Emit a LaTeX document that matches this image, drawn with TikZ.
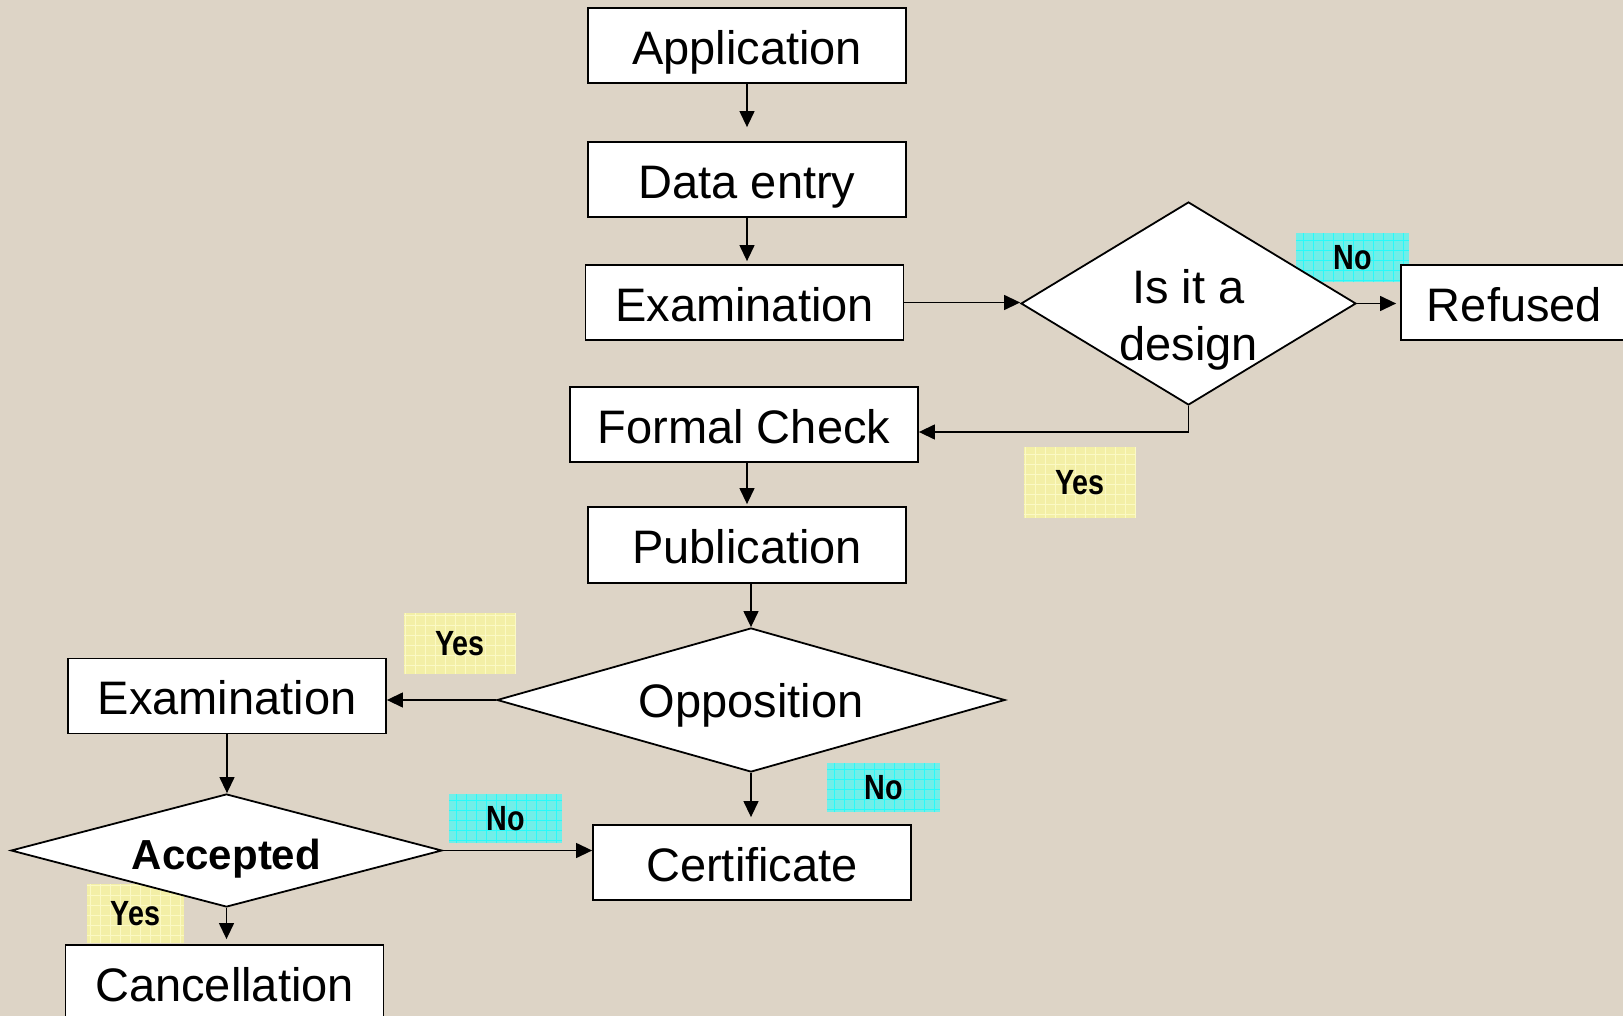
\documentclass[tikz,border=0pt]{standalone}
\usepackage{fontspec}
\setmainfont{Liberation Sans}
\newfontfamily\tagfont[FakeStretch=0.82]{Liberation Sans}
\usetikzlibrary{shapes.geometric,arrows.meta}

\definecolor{paper}{RGB}{221,212,198}
\definecolor{nocyan}{RGB}{114,238,232}
\definecolor{nogrid}{RGB}{40,250,250}
\definecolor{yesyellow}{RGB}{243,239,166}
\definecolor{yesgrid}{RGB}{251,249,196}

\begin{document}
\begin{tikzpicture}[x=0.5pt, y=-0.5pt,
        box/.style={rectangle, draw, fill=white, line width=0.9pt, inner sep=0pt,
            minimum width=159pt, minimum height=37.5pt, text height=18.8pt, text depth=0pt,
            font=\fontsize{23.5}{28.5}\selectfont},
        decision/.style={diamond, draw, fill=white, line width=0.9pt, inner sep=0pt,
            font=\fontsize{23.5}{28.5}\selectfont},
        notag/.style={rectangle, draw=none, fill=nocyan, inner sep=0pt,
            minimum width=56.5pt, minimum height=24.5pt,
            font=\tagfont\fontsize{17.5}{20}\selectfont\bfseries,
            path picture={\draw[nogrid, line width=0.35pt] (path picture bounding box.south west) grid[step=5pt] (path picture bounding box.north east);}},
        yestag/.style={rectangle, draw=none, fill=yesyellow, inner sep=0pt,
            minimum width=56pt, minimum height=30.5pt,
            font=\tagfont\fontsize{17.5}{20}\selectfont\bfseries,
            path picture={\draw[yesgrid, line width=0.35pt] (path picture bounding box.south west) grid[step=5pt] (path picture bounding box.north east);}},
        flow/.style={-{Triangle[length=8pt, width=7.5pt]}, line width=0.65pt}
    ]
    % \draw[step=50,gray!30,very thin] (0,0) grid (1623,1016);

    \fill[paper] (0,0) rectangle (1623,1016);
    \useasboundingbox (0,0) rectangle (1623,1016);

    % answers behind the shapes
    \node[notag] (norefused) at ( 1352.5 , 258 ) {No};
    \node[yestag, minimum height=35.5pt] (yesformal) at ( 1080 , 482.5 ) {Yes};
    \node[yestag] (yesreexam) at ( 460 , 643.5 ) {Yes};
    \node[notag] (nocert) at ( 883.5 , 787.5 ) {No};
    \node[notag] (noaccepted) at ( 505.5 , 818.5 ) {No};
    \node[yestag, minimum width=48.5pt, minimum height=29.5pt] (yescancel) at ( 135.5 , 913.5 ) {Yes};

    \node[box] (app) at ( 747 , 45.5 ) {Application};
    \node[box] (data) at ( 747 , 179.5 ) {Data entry};
    \node[box] (exam) at ( 744.5 , 302.5 ) {Examination};
    \node[decision, aspect=1.65, minimum width=167.5pt, minimum height=101.5pt, align=center,
        text height=57pt, text depth=0pt] (design) at ( 1188.5 , 303.5 ) {Is it a\\design};
    \node[box, minimum width=113.5pt] (refused) at ( 1514.5 , 302.5 ) {Refused};
    \node[box, minimum width=174pt] (formal) at ( 744 , 424.5 ) {Formal Check};
    \node[box, minimum height=38pt] (publication) at ( 747 , 545 ) {Publication};
    \node[decision, aspect=3.53, minimum width=254pt, minimum height=72pt,
        text height=17.6pt, text depth=0pt] (opposition) at ( 751 , 700 ) {Opposition};
    \node[box] (reexam) at ( 227 , 696 ) {Examination};
    \node[decision, aspect=3.81, minimum width=215.5pt, minimum height=56.5pt, text height=18.9pt, text depth=0pt,
        font=\fontsize{21}{25}\selectfont\bfseries] (accepted) at ( 226.5 , 850.5 ) {Accepted};
    \node[box] (certificate) at ( 752 , 862.5 ) {Certificate};
    \node[box] (cancel) at ( 224.5 , 982.5 ) {Cancellation};

    \draw[flow, shorten >=7pt] (app) -- (data);
    \draw[flow, shorten >=1.5pt] (data.south) -- (data.south |- exam.north);
    \draw[flow] (exam.east) -- (exam.east -| design.west);
    \draw[flow, shorten >=2pt] (design.east) -- (design.east -| refused.west);
    \draw[flow] (design.south) |- ([yshift=-3.75pt]formal.east);
    \draw[flow, shorten >=1pt] (formal.south -| publication.north) -- (publication.north);
    \draw[flow] (publication.south -| opposition.north) -- (opposition.north);
    \draw[flow] (opposition.west) -- (opposition.west -| reexam.east);
    \draw[flow, shorten >=3.5pt] (opposition.south) -- (opposition.south |- certificate.north);
    \draw[flow] (reexam.south) -- (reexam.south |- accepted.north);
    \draw[flow] (accepted.east) -- (accepted.east -| certificate.west);
    \draw[flow, shorten >=2.5pt] (accepted.south) -- (accepted.south |- cancel.north);

\end{tikzpicture}
\end{document}
